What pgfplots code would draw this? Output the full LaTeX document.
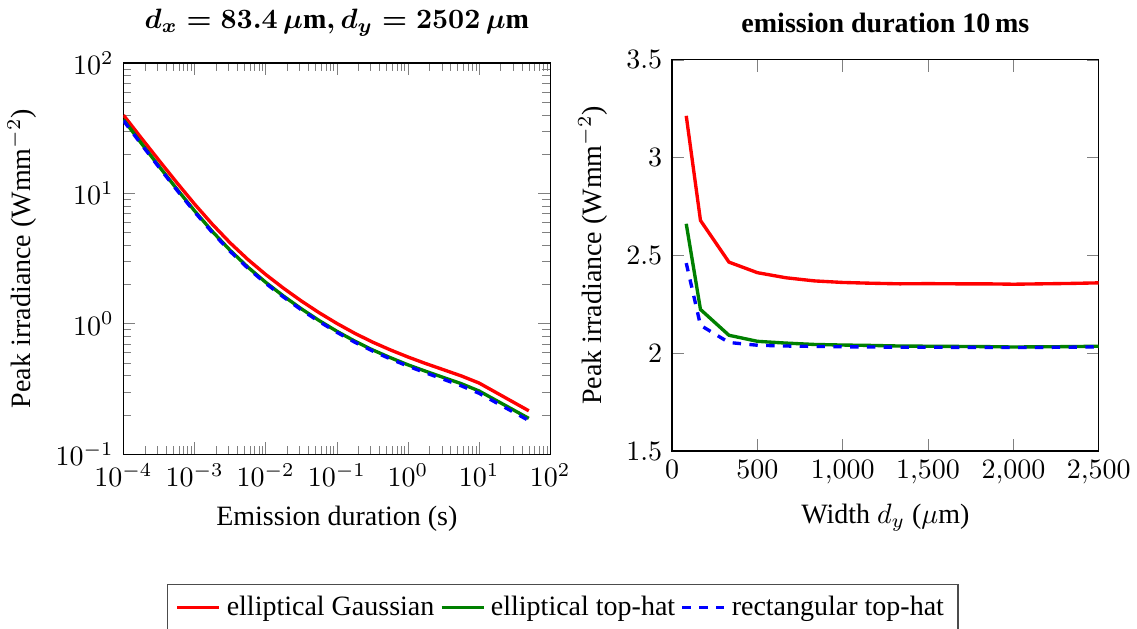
\documentclass[border=0pt]{standalone}
\usepackage{amsmath}
\usepackage{fontspec}
\setmainfont{Liberation Serif}
\usepackage{pgfplots}
\pgfplotsset{compat=1.18}
\definecolor{dgreen}{RGB}{0,128,0}

\pgfplotsset{
  redl/.style={color=red, very thick},
  greenl/.style={color=dgreen, very thick},
  bluel/.style={color=blue, very thick, dashed},
  legend image code/.code={\draw[mark repeat=2,mark phase=2,#1] plot coordinates {(0pt,0pt) (7.5pt,0pt) (15pt,0pt)};},
}

\begin{document}
\begin{tikzpicture}
\begin{axis}[
  scale only axis, width=152.4pt, height=139.7pt,
  at={(44.1pt,62.1pt)}, anchor=south west,
  xmode=log, ymode=log,
  xmin=1e-4, xmax=1e2, ymin=0.1, ymax=100,
  xlabel={Emission duration (s)},
  ylabel={Peak irradiance (Wmm$^{-2}$)},
  title={$\boldsymbol{d_x = 83.4\,\mu\mathrm{m}, d_y = 2502\,\mu\mathrm{m}}$},
  legend columns=3,
  legend style={at={(1.0293,-0.3918)}, anchor=center, draw=black!70},
]
\addplot[redl] coordinates {
(1e-4,39.8) (1.778e-4,26.6) (3.162e-4,17.88) (5.623e-4,12.09) (1e-3,8.27) (1.778e-3,5.79)
(3.162e-3,4.17) (5.623e-3,3.108) (1e-2,2.386) (1.778e-2,1.873) (3.162e-2,1.496) (5.623e-2,1.216)
(0.1,1.006) (0.1778,0.846) (0.3162,0.724) (0.5623,0.631) (1,0.556) (1.778,0.495)
(3.162,0.444) (5.623,0.398) (10,0.351) (50,0.215)};
\addlegendentry{elliptical Gaussian}
\addplot[greenl] coordinates {
(1e-4,36.8) (1.778e-4,24.27) (3.162e-4,16.13) (5.623e-4,10.80) (1e-3,7.34) (1.778e-3,5.10)
(3.162e-3,3.656) (5.623e-3,2.714) (1e-2,2.078) (1.778e-2,1.631) (3.162e-2,1.303) (5.623e-2,1.059)
(0.1,0.876) (0.1778,0.737) (0.3162,0.631) (0.5623,0.550) (1,0.484) (1.778,0.432)
(3.162,0.387) (5.623,0.347) (10,0.305) (50,0.188)};
\addlegendentry{elliptical top-hat}
\addplot[bluel] coordinates {
(1e-4,36.1) (1.778e-4,23.82) (3.162e-4,15.83) (5.623e-4,10.61) (1e-3,7.20) (1.778e-3,5.005)
(3.162e-3,3.589) (5.623e-3,2.665) (1e-2,2.040) (1.778e-2,1.602) (3.162e-2,1.279) (5.623e-2,1.040)
(0.1,0.860) (0.1778,0.723) (0.3162,0.619) (0.5623,0.538) (1,0.473) (1.778,0.420)
(3.162,0.375) (5.623,0.334) (10,0.293) (50,0.181)};
\addlegendentry{rectangular top-hat}
\end{axis}

\begin{axis}[
  scale only axis, width=152.4pt, height=139.7pt,
  at={(240pt,63.2pt)}, anchor=south west,
  xmin=0, xmax=2500, ymin=1.5, ymax=3.5,
  xtick={0,500,1000,1500,2000,2500},
  ytick={1.5,2,2.5,3,3.5},
  xlabel={Width $d_y$ ($\mu$m)},
  ylabel={Peak irradiance (Wmm$^{-2}$)},
  title={\textbf{emission duration 10\,ms}},
]
\addplot[redl] coordinates {
(83.4,3.214) (166.8,2.679) (333.6,2.466) (500.4,2.412) (667.2,2.386) (834,2.370)
(1000.8,2.362) (1167.6,2.358) (1334.4,2.355) (1501.2,2.356) (1668,2.355) (1834.8,2.355)
(2001.6,2.353) (2168.4,2.355) (2335.2,2.357) (2502,2.360)};
\addplot[greenl] coordinates {
(83.4,2.662) (166.8,2.224) (333.6,2.092) (500.4,2.061) (667.2,2.052) (834,2.045)
(1000.8,2.042) (1167.6,2.040) (1334.4,2.037) (1501.2,2.036) (1668,2.035) (1834.8,2.034)
(2001.6,2.032) (2168.4,2.033) (2335.2,2.034) (2502,2.036)};
\addplot[bluel] coordinates {
(83.4,2.461) (166.8,2.143) (333.6,2.055) (500.4,2.041) (667.2,2.037) (834,2.035)
(1000.8,2.033) (1167.6,2.032) (1334.4,2.031) (1501.2,2.031) (1668,2.030) (1834.8,2.030)
(2001.6,2.029) (2168.4,2.030) (2335.2,2.031) (2502,2.033)};
\end{axis}
\pgfresetboundingbox
\path[use as bounding box] (0,0) rectangle (406.07pt,224.29pt);
\end{tikzpicture}
\end{document}
